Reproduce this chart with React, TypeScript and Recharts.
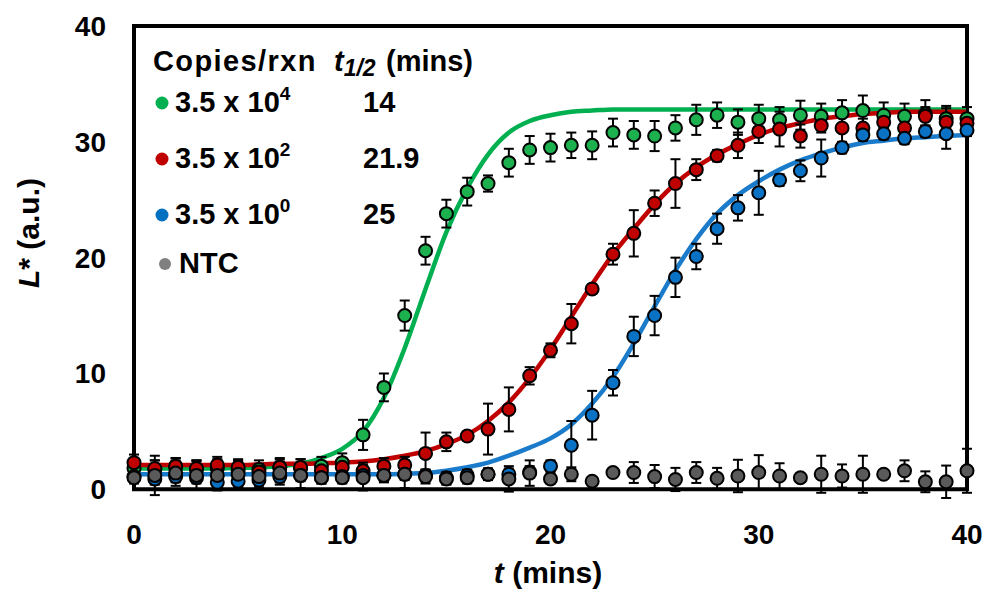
import { ComposedChart, Line, XAxis, YAxis, ErrorBar, ReferenceArea } from 'recharts'

const times = [
  0, 1, 2, 3, 4, 5, 6, 7, 8, 9, 10, 11, 12, 13, 14, 15, 16, 17, 18, 19, 20,
  21, 22, 23, 24, 25, 26, 27, 28, 29, 30, 31, 32, 33, 34, 35, 36, 37, 38, 39, 40,
]

// measured L* values, 3.5 x 10^4 copies
const highPts = [
  1.8, 1.7, 1.9, 1.7, 1.8, 1.6, 1.7, 1.9, 1.8, 2.0, 2.3, 4.7, 8.8, 15.0, 20.6, 23.8, 25.7, 26.4, 28.2, 29.3, 29.5,
  29.7, 29.7, 30.8, 30.6, 30.5, 31.2, 31.9, 32.3, 31.7, 32.0, 31.9, 32.3, 32.2, 32.5, 32.7, 32.3, 32.2, 32.4, 32.0, 32.0,
]
const highErr = [
  0.8, 0.8, 0.8, 0.8, 0.8, 0.8, 0.8, 0.8, 0.8, 0.8, 0.8, 1.3, 1.2, 1.3, 1.2, 1.2, 1.2, 0.7, 1.2, 1.2, 1.2,
  1.1, 1.2, 1.2, 1.2, 1.3, 1.1, 1.3, 1.1, 1.1, 1.2, 1.1, 1.25, 1.1, 1.1, 1.3, 1.1, 1.1, 1.2, 1.1, 1.0,
]
const highFit = [
  1.8, 1.8, 1.8, 1.8, 1.8, 1.85, 1.9, 2.0, 2.2, 2.7, 3.5, 5.0, 7.9, 12.2, 17.3, 22.2, 26.0, 28.9, 30.8, 31.8, 32.3,
  32.6, 32.7, 32.8, 32.8, 32.8, 32.8, 32.8, 32.8, 32.8, 32.8, 32.8, 32.8, 32.8, 32.8, 32.8, 32.8, 32.8, 32.8, 32.8, 32.8,
]

// 3.5 x 10^2 copies
const midPts = [
  2.3, 1.8, 2.0, 1.8, 2.1, 1.9, 1.5, 1.9, 1.9, 1.6, 1.9, 1.6, 2.0, 2.1, 3.1, 4.1, 4.6, 5.2, 6.9, 9.8, 12.0,
  14.3, 17.3, 20.3, 22.1, 24.7, 26.4, 27.6, 28.8, 29.7, 30.9, 31.1, 30.5, 31.4, 31.2, 31.2, 31.7, 31.2, 32.2, 31.7, 31.6,
]
const midErr = [
  0.7, 0.7, 0.7, 0.7, 0.7, 0.7, 0.7, 0.7, 0.7, 0.7, 0.7, 0.7, 0.7, 0.7, 1.8, 0.8, 0.4, 2.2, 1.9, 0.75, 0.6,
  1.7, 0.4, 0.9, 2.0, 1.1, 2.1, 0.9, 0.5, 1.1, 1.0, 1.5, 1.0, 0.6, 1.5, 0.8, 0.6, 0.7, 0.8, 1.2, 0.5,
]
const midFit = [
  2.1, 2.1, 2.1, 2.1, 2.1, 2.1, 2.15, 2.2, 2.2, 2.25, 2.3, 2.4, 2.6, 2.9, 3.3, 3.9, 4.7, 5.9, 7.5, 9.6, 12.1,
  14.9, 17.7, 20.3, 22.5, 24.6, 26.4, 27.8, 28.9, 29.8, 30.6, 31.2, 31.6, 32.0, 32.2, 32.4, 32.5, 32.6, 32.6, 32.6, 32.6,
]

// 3.5 x 10^0 copies
const lowPts = [
  1.1, 0.9, 1.1, 1.0, 0.6, 0.7, 0.8, 1.1, 1.2, 1.0, 1.1, 1.2, 1.2, 1.3, 1.2, 1.0, 1.2, 1.3, 1.3, 1.5, 2.0,
  3.8, 6.4, 9.2, 13.2, 15.0, 18.3, 20.1, 22.5, 24.3, 25.6, 26.7, 27.5, 28.6, 29.5, 30.6, 30.7, 30.3, 30.9, 30.7, 31.0,
]
const lowErr = [
  0.5, 0.5, 0.5, 0.5, 0.5, 0.5, 0.5, 0.5, 0.5, 0.5, 0.5, 0.5, 0.5, 0.5, 0.5, 0.5, 0.5, 0.5, 0.5, 0.5, 0.5,
  2.1, 2.1, 1.1, 1.7, 1.7, 1.7, 1.1, 1.3, 1.1, 1.9, 0.5, 0.9, 1.6, 0.5, 0.5, 0.5, 0.5, 0.5, 1.3, 0.5,
]
const lowFit = [
  1.3, 1.3, 1.3, 1.3, 1.3, 1.3, 1.3, 1.3, 1.3, 1.3, 1.3, 1.3, 1.3, 1.35, 1.4, 1.6, 1.9, 2.3, 2.9, 3.6, 4.4,
  5.6, 7.4, 9.7, 12.6, 15.8, 18.9, 21.6, 23.8, 25.4, 26.6, 27.6, 28.4, 29.0, 29.5, 29.9, 30.1, 30.3, 30.4, 30.5, 30.6,
]

// no template control
const ntcPts = [
  1.0, 1.2, 1.4, 1.2, 1.2, 1.3, 1.1, 1.4, 1.2, 1.0, 1.0, 1.0, 1.2, 1.3, 1.1, 0.9, 1.0, 1.3, 0.9, 1.4, 0.9,
  1.3, 0.7, 1.45, 1.45, 1.1, 0.85, 1.45, 0.95, 1.15, 1.45, 1.15, 1.0, 1.3, 1.15, 1.3, 1.3, 1.6, 0.65, 0.65, 1.6,
]
const ntcErr = [
  0.5, 1.7, 1.1, 1.2, 1.3, 1.2, 1.0, 1.0, 1.1, 0.5, 0.5, 1.1, 0.6, 1.2, 0.6, 0.5, 0.5, 0.5, 1.1, 1.1, 0.4,
  0.6, 0.2, 0.3, 0.9, 1.0, 1.0, 0.9, 0.9, 1.4, 1.5, 1.1, 0.3, 1.6, 1.0, 1.6, 0.3, 0.9, 0.9, 1.4, 1.9,
]

const xTicks = [0, 10, 20, 30, 40]
const yTicks = [0, 10, 20, 30, 40]

const legendRows = [
  { label: '3.5 x 10', exp: '4', thalf: '14', color: '#00B050' },
  { label: '3.5 x 10', exp: '2', thalf: '21.9', color: '#C00000' },
  { label: '3.5 x 10', exp: '0', thalf: '25', color: '#0070C0' },
  { label: 'NTC', exp: '', thalf: '', color: '#808080' },
]

const rows = times.map((t, i) => ({
  t,
  hi: highPts[i], hiE: highErr[i], hiF: highFit[i],
  mid: midPts[i], midE: midErr[i], midF: midFit[i],
  lo: lowPts[i], loE: lowErr[i], loF: lowFit[i],
  ntc: ntcPts[i], ntcE: ntcErr[i],
}))

const FONT = "'Liberation Sans', Arial, Helvetica, sans-serif"

function XTick(props: any) {
  const { x, y, payload } = props
  return (
    <text x={x} y={y} textAnchor="middle" dy={38} fontSize={28} fontWeight={700} fill="#000" fontFamily={FONT}>
      {payload.value}
    </text>
  )
}

function YTick(props: any) {
  const { x, y, payload } = props
  return (
    <text x={x} y={y} textAnchor="end" dx={-20} dy={10} fontSize={28} fontWeight={700} fill="#000" fontFamily={FONT}>
      {payload.value}
    </text>
  )
}

const pointSeries = [
  { key: 'hi', err: 'hiE', color: '#1DB04E' },
  { key: 'mid', err: 'midE', color: '#C00000' },
  { key: 'lo', err: 'loE', color: '#0A72C4' },
  { key: 'ntc', err: 'ntcE', color: '#5A5A5A' },
]

const fitSeries = [
  { key: 'hiF', color: '#00B050' },
  { key: 'midF', color: '#C00000' },
  { key: 'loF', color: '#1B7BCB' },
]

export default function App() {
  return (
    <div style={{ position: 'absolute', left: 0, top: 0, width: 986, height: 589, background: '#fff', fontFamily: FONT }}>
      <ComposedChart width={986} height={589} data={rows} margin={{ top: 26, right: 19, bottom: 31, left: 74 }}>
        <XAxis
          dataKey="t"
          type="number"
          domain={[0, 40]}
          ticks={xTicks}
          axisLine={false}
          tickLine={false}
          tick={<XTick />}
          height={60}
        />
        <YAxis
          type="number"
          domain={[0, 40]}
          ticks={yTicks}
          axisLine={false}
          tickLine={false}
          tick={<YTick />}
          width={60}
        />
        <ReferenceArea x1={0} x2={40} y1={0} y2={40} fill="none" stroke="#000" strokeWidth={4} ifOverflow="visible" />
        {fitSeries.map((s) => (
          <Line
            key={s.key}
            type="monotone"
            dataKey={s.key}
            stroke={s.color}
            strokeWidth={4.5}
            dot={false}
            activeDot={false}
            isAnimationActive={false}
          />
        ))}
        {pointSeries.map((s) => (
          <Line
            key={s.key}
            dataKey={s.key}
            stroke="none"
            strokeWidth={0}
            dot={{ r: 6.5, fill: s.color, stroke: '#000', strokeWidth: 2 }}
            activeDot={false}
            isAnimationActive={false}
          >
            <ErrorBar dataKey={s.err} direction="y" width={5} stroke="#000" strokeWidth={2} />
          </Line>
        ))}
      </ComposedChart>

      <svg width={986} height={589} style={{ position: 'absolute', left: 0, top: 0, pointerEvents: 'none' }} fontFamily={FONT}>
        <text x={153} y={71} fontSize={29} fontWeight={700} fill="#000" letterSpacing={1.4}>Copies/rxn</text>
        <text x={334} y={71} fontSize={29} fontWeight={700} fill="#000">
          <tspan fontStyle="italic">t</tspan>
          <tspan fontStyle="italic" fontSize={23} dy={5}>1/2</tspan>
        </text>
        <text x={386} y={71} fontSize={29} fontWeight={700} fill="#000">(mins)</text>
        {legendRows.map((r, i) => {
          const base = [112, 168, 224, 273][i]
          return (
            <g key={i}>
              <circle cx={r.exp ? 162 : 165} cy={base - 9} r={r.exp ? 6.5 : 6} fill={r.color} />
              <text x={r.exp ? 175 : 179} y={base} fontSize={29} fontWeight={700} fill="#000">
                {r.label}
                {r.exp && <tspan fontSize={19} dy={-12}>{r.exp}</tspan>}
              </text>
              {r.thalf && (
                <text x={363} y={base} fontSize={29} fontWeight={700} fill="#000">{r.thalf}</text>
              )}
            </g>
          )
        })}
        <text
          x={28}
          y={233}
          transform="rotate(-90 28 233)"
          textAnchor="middle"
          dominantBaseline="central"
          fontSize={30}
          fontWeight={700}
          fill="#000"
        >
          <tspan fontStyle="italic">L</tspan>* (a.u.)
        </text>
        <text x={548} y={583} textAnchor="middle" fontSize={30} fontWeight={700} fill="#000">
          <tspan fontStyle="italic">t</tspan> (mins)
        </text>
      </svg>
    </div>
  )
}
